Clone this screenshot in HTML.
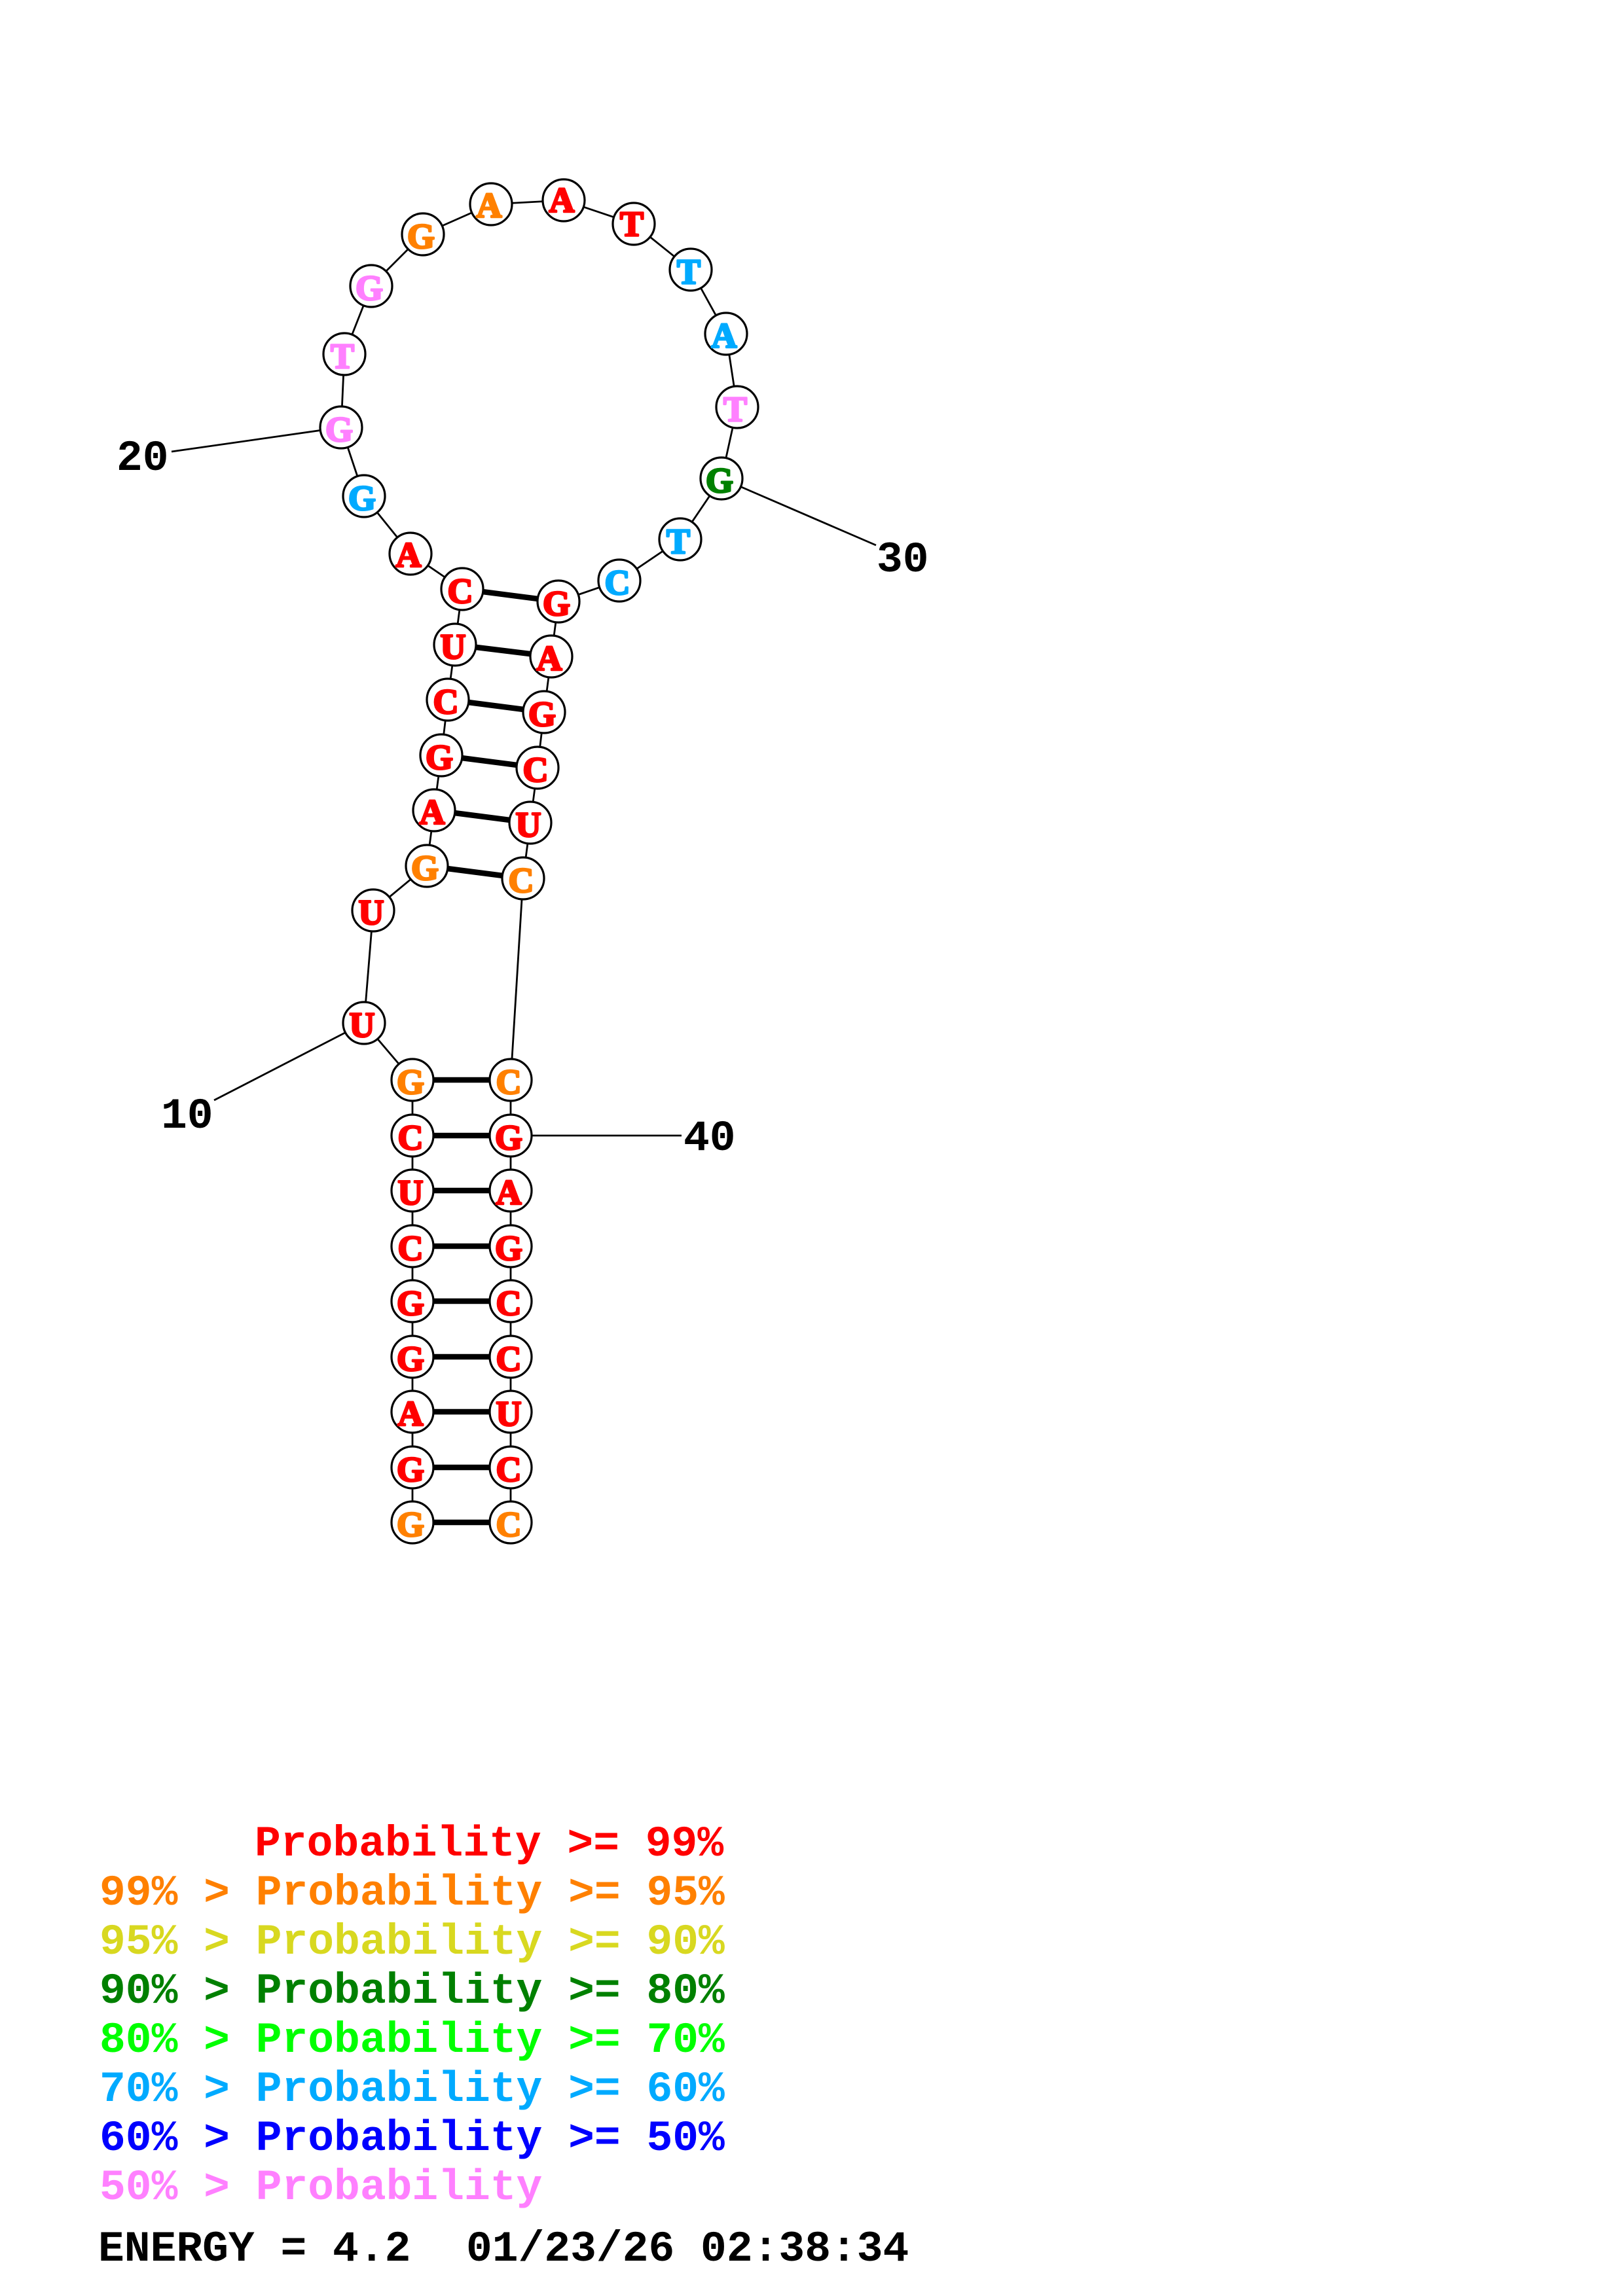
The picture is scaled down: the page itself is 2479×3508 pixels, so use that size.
<!DOCTYPE html>
<html>
<head>
<meta charset="utf-8">
<style>
html,body{margin:0;padding:0;background:#fff;}
svg{display:block;}
.n{font-family:"Liberation Serif",serif;font-weight:bold;font-size:54px;text-anchor:middle;stroke-width:3;stroke-linejoin:round;}
.l{font-family:"Liberation Mono",monospace;font-weight:bold;font-size:66.3px;}
circle{fill:#fff;stroke:#000;stroke-width:3.2;}
.b{stroke:#000;stroke-width:2.8;fill:none;}
.p{stroke:#000;stroke-width:8.5;}
</style>
</head>
<body>
<svg width="2479" height="3508" viewBox="0 0 2479 3508" xmlns="http://www.w3.org/2000/svg">
<rect width="2479" height="3508" fill="#fff"/>
<polyline class="b" points="630,2326 630,1650 556,1563 570,1391 652,1323 663,1238 674,1154 684,1069 695,985 706,900 627,846 556,758 521,653 526,541 567,437 646,358 750,312 861,306 968,342 1055,412 1109,510 1126,622 1102,731 1039,824 946,887 853,919 842,1003 831,1088 821,1173 810,1257 799,1342 780,1650 780,2326"/>
<line class="b" x1="521" y1="653" x2="262" y2="690"/>
<line class="b" x1="1102" y1="731" x2="1338" y2="833"/>
<line class="b" x1="556" y1="1563" x2="327" y2="1681"/>
<line class="b" x1="780" y1="1735" x2="1041" y2="1735"/>
<line class="p" x1="706" y1="900" x2="853" y2="919"/>
<line class="p" x1="695" y1="985" x2="842" y2="1003"/>
<line class="p" x1="684" y1="1069" x2="831" y2="1088"/>
<line class="p" x1="674" y1="1154" x2="821" y2="1173"/>
<line class="p" x1="663" y1="1238" x2="810" y2="1257"/>
<line class="p" x1="652" y1="1323" x2="799" y2="1342"/>
<line class="p" x1="630" y1="1650" x2="780" y2="1650"/>
<line class="p" x1="630" y1="1735" x2="780" y2="1735"/>
<line class="p" x1="630" y1="1819" x2="780" y2="1819"/>
<line class="p" x1="630" y1="1904" x2="780" y2="1904"/>
<line class="p" x1="630" y1="1988" x2="780" y2="1988"/>
<line class="p" x1="630" y1="2073" x2="780" y2="2073"/>
<line class="p" x1="630" y1="2157" x2="780" y2="2157"/>
<line class="p" x1="630" y1="2242" x2="780" y2="2242"/>
<line class="p" x1="630" y1="2326" x2="780" y2="2326"/>
<g>
<circle cx="861" cy="306" r="32"/><circle cx="968" cy="342" r="32"/><circle cx="1055" cy="412" r="32"/><circle cx="1109" cy="510" r="32"/><circle cx="1126" cy="622" r="32"/><circle cx="1102" cy="731" r="32"/><circle cx="1039" cy="824" r="32"/><circle cx="946" cy="887" r="32"/><circle cx="853" cy="919" r="32"/><circle cx="750" cy="312" r="32"/><circle cx="646" cy="358" r="32"/><circle cx="567" cy="437" r="32"/><circle cx="526" cy="541" r="32"/><circle cx="521" cy="653" r="32"/><circle cx="556" cy="758" r="32"/><circle cx="627" cy="846" r="32"/><circle cx="706" cy="900" r="32"/>
<circle cx="695" cy="985" r="32"/><circle cx="684" cy="1069" r="32"/><circle cx="674" cy="1154" r="32"/><circle cx="663" cy="1238" r="32"/><circle cx="652" cy="1323" r="32"/>
<circle cx="842" cy="1003" r="32"/><circle cx="831" cy="1088" r="32"/><circle cx="821" cy="1173" r="32"/><circle cx="810" cy="1257" r="32"/><circle cx="799" cy="1342" r="32"/>
<circle cx="570" cy="1391" r="32"/><circle cx="556" cy="1563" r="32"/>
<circle cx="630" cy="1650" r="32"/><circle cx="630" cy="1735" r="32"/><circle cx="630" cy="1819" r="32"/><circle cx="630" cy="1904" r="32"/><circle cx="630" cy="1988" r="32"/><circle cx="630" cy="2073" r="32"/><circle cx="630" cy="2157" r="32"/><circle cx="630" cy="2242" r="32"/><circle cx="630" cy="2326" r="32"/>
<circle cx="780" cy="1650" r="32"/><circle cx="780" cy="1735" r="32"/><circle cx="780" cy="1819" r="32"/><circle cx="780" cy="1904" r="32"/><circle cx="780" cy="1988" r="32"/><circle cx="780" cy="2073" r="32"/><circle cx="780" cy="2157" r="32"/><circle cx="780" cy="2242" r="32"/><circle cx="780" cy="2326" r="32"/>
</g>
<g transform="translate(-1,-1)">
<g class="n" fill="#ff0000" stroke="#ff0000">
<text x="859" y="325">A</text><text x="966" y="361">T</text><text x="625" y="867">A</text><text x="704" y="922">C</text><text x="851" y="941">G</text>
<text x="693" y="1007">U</text><text x="682" y="1091">C</text><text x="672" y="1176">G</text><text x="661" y="1260">A</text>
<text x="840" y="1025">A</text><text x="829" y="1110">G</text><text x="819" y="1195">C</text><text x="808" y="1279">U</text>
<text x="568" y="1413">U</text><text x="554" y="1585">U</text>
<text x="628" y="1757">C</text><text x="628" y="1841">U</text><text x="628" y="1926">C</text><text x="628" y="2010">G</text><text x="628" y="2095">G</text><text x="628" y="2179">A</text><text x="628" y="2264">G</text>
<text x="778" y="1757">G</text><text x="778" y="1841">A</text><text x="778" y="1926">G</text><text x="778" y="2010">C</text><text x="778" y="2095">C</text><text x="778" y="2179">U</text><text x="778" y="2264">C</text>
</g>
<g class="n" fill="#ff8000" stroke="#ff8000">
<text x="748" y="333">A</text><text x="644" y="380">G</text><text x="650" y="1345">G</text><text x="797" y="1364">C</text>
<text x="628" y="1672">G</text><text x="778" y="1672">C</text><text x="628" y="2348">G</text><text x="778" y="2348">C</text>
</g>
<g class="n" fill="#ff80ff" stroke="#ff80ff">
<text x="565" y="459">G</text><text x="524" y="563">T</text><text x="519" y="675">G</text><text x="1124" y="644">T</text>
</g>
<g class="n" fill="#00aaff" stroke="#00aaff">
<text x="1053" y="434">T</text><text x="1107" y="532">A</text><text x="1037" y="846">T</text><text x="944" y="909">C</text><text x="554" y="780">G</text>
</g>
<g class="n" fill="#008000" stroke="#008000"><text x="1100" y="753">G</text></g>
</g>
<g class="l" fill="#000">
<text x="178" y="718">20</text>
<text x="1339" y="873">30</text>
<text x="246" y="1723">10</text>
<text x="1044" y="1757">40</text>
</g>
<g class="l">
<text x="389" y="2835" fill="#ff0000">Probability &gt;= 99%</text>
<text x="152" y="2910" fill="#ff8000">99% &gt; Probability &gt;= 95%</text>
<text x="152" y="2985" fill="#d8d820">95% &gt; Probability &gt;= 90%</text>
<text x="152" y="3060" fill="#008000">90% &gt; Probability &gt;= 80%</text>
<text x="152" y="3135" fill="#00ff00">80% &gt; Probability &gt;= 70%</text>
<text x="152" y="3210" fill="#00aaff">70% &gt; Probability &gt;= 60%</text>
<text x="152" y="3285" fill="#0000ff">60% &gt; Probability &gt;= 50%</text>
<text x="152" y="3360" fill="#ff80ff">50% &gt; Probability</text>
<text x="150" y="3454" fill="#000">ENERGY = 4.2</text>
<text x="712" y="3454" fill="#000">01/23/26 02:38:34</text>
</g>
</svg>
</body>
</html>
